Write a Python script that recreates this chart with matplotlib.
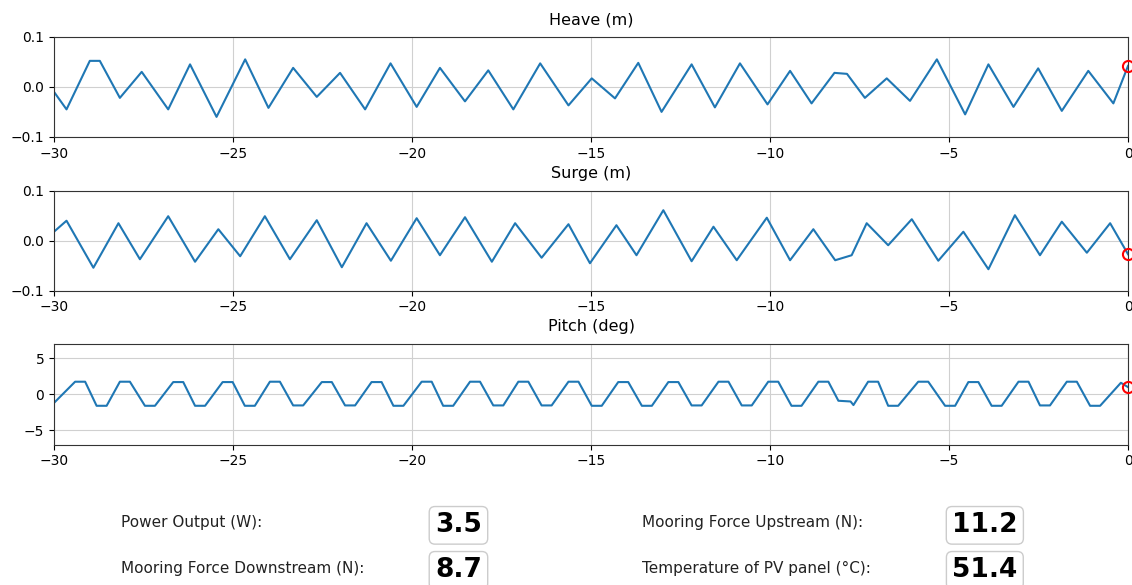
import matplotlib
matplotlib.use("Agg")
import matplotlib.pyplot as plt

# valores (picos y valles de cada serie)
heave_t = [-30.0, -29.65, -29.0, -28.72, -28.16, -27.55, -26.81, -26.2, -25.46, -24.66,
           -24.01, -23.32, -22.66, -22.01, -21.31, -20.6, -19.87, -19.22, -18.52, -17.87,
           -17.17, -16.42, -15.63, -14.98, -14.33, -13.68, -13.03, -12.19, -11.54, -10.84,
           -10.07, -9.44, -8.84, -8.2, -7.85, -7.35, -6.74, -6.09, -5.34, -4.55,
           -3.9, -3.2, -2.51, -1.85, -1.11, -0.41, 0.0]
heave_v = [-0.01, -0.045, 0.052, 0.052, -0.022, 0.03, -0.045, 0.045, -0.06, 0.055,
           -0.042, 0.038, -0.02, 0.028, -0.045, 0.047, -0.04, 0.038, -0.029, 0.033,
           -0.045, 0.047, -0.037, 0.017, -0.023, 0.048, -0.05, 0.045, -0.041, 0.047,
           -0.035, 0.032, -0.033, 0.028, 0.026, -0.022, 0.017, -0.028, 0.055, -0.055,
           0.045, -0.04, 0.037, -0.048, 0.032, -0.033, 0.042]

surge_t = [-30.0, -29.65, -28.9, -28.2, -27.6, -26.81, -26.06, -25.41, -24.8, -24.11,
           -23.41, -22.66, -21.96, -21.27, -20.59, -19.87, -19.22, -18.52, -17.77, -17.12,
           -16.38, -15.63, -15.03, -14.29, -13.73, -12.98, -12.19, -11.58, -10.93, -10.09,
           -9.44, -8.79, -8.18, -7.72, -7.3, -6.7, -6.04, -5.3, -4.6, -3.9,
           -3.16, -2.46, -1.85, -1.15, -0.5, 0.0]
surge_v = [0.018, 0.04, -0.054, 0.035, -0.037, 0.049, -0.042, 0.023, -0.031, 0.049,
           -0.037, 0.041, -0.053, 0.035, -0.04, 0.045, -0.029, 0.047, -0.042, 0.035,
           -0.034, 0.033, -0.045, 0.031, -0.029, 0.061, -0.041, 0.028, -0.039, 0.046,
           -0.039, 0.023, -0.039, -0.029, 0.035, -0.009, 0.043, -0.04, 0.018, -0.057,
           0.051, -0.029, 0.038, -0.024, 0.035, -0.027]

# pitch: bordes de las mesetas superior e inferior
pitch_t = [-30.0,
           -29.41, -29.13, -28.81, -28.53, -28.16, -27.88, -27.46, -27.18,
           -26.67, -26.39, -26.06, -25.78, -25.29, -25.01, -24.67, -24.39,
           -23.97, -23.69, -23.32, -23.04, -22.52, -22.24, -21.87, -21.59,
           -21.13, -20.85, -20.52, -20.24, -19.73, -19.45, -19.13, -18.85,
           -18.38, -18.10, -17.73, -17.45, -17.03, -16.75, -16.38, -16.10,
           -15.63, -15.35, -14.98, -14.70, -14.24, -13.96, -13.58, -13.30,
           -12.84, -12.56, -12.19, -11.91, -11.44, -11.16, -10.79, -10.51,
           -10.05, -9.77, -9.40, -9.12, -8.65, -8.37, -8.09, -7.75, -7.67,
           -7.26, -6.98, -6.70, -6.42, -5.86, -5.58, -5.11, -4.83,
           -4.46, -4.18, -3.81, -3.53, -3.06, -2.78, -2.46, -2.18,
           -1.71, -1.43, -1.06, -0.78, -0.2, 0.0]
pitch_v = [-1.2,
           1.75, 1.75, -1.6, -1.6, 1.75, 1.75, -1.6, -1.6,
           1.7, 1.7, -1.6, -1.6, 1.7, 1.7, -1.6, -1.6,
           1.75, 1.75, -1.55, -1.55, 1.7, 1.7, -1.55, -1.55,
           1.7, 1.7, -1.6, -1.6, 1.75, 1.75, -1.6, -1.6,
           1.75, 1.75, -1.55, -1.55, 1.75, 1.75, -1.55, -1.55,
           1.75, 1.75, -1.6, -1.6, 1.7, 1.7, -1.6, -1.6,
           1.7, 1.7, -1.55, -1.55, 1.75, 1.75, -1.55, -1.55,
           1.75, 1.75, -1.6, -1.6, 1.75, 1.75, -0.9, -1.0, -1.5,
           1.75, 1.75, -1.6, -1.6, 1.75, 1.75, -1.6, -1.6,
           1.7, 1.7, -1.6, -1.6, 1.75, 1.75, -1.55, -1.55,
           1.75, 1.75, -1.6, -1.6, 1.6, 1.0]

titulos = ["Heave (m)", "Surge (m)", "Pitch (deg)"]
limites_y = [(-0.1, 0.1), (-0.1, 0.1), (-7, 7)]
ticks_y = [[-0.1, 0.0, 0.1], [-0.1, 0.0, 0.1], [-5, 0, 5]]
ticks_x = [-30, -25, -20, -15, -10, -5, 0]

etiquetas = ["Power Output (W):", "Mooring Force Downstream (N):",
             "Mooring Force Upstream (N):", "Temperature of PV panel (°C):"]
valores = ["3.5", "8.7", "11.2", "51.4"]

fig = plt.figure(figsize=(11.32, 5.85), dpi=100)

posiciones = [[0.0477, 0.766, 0.9488, 0.171],
              [0.0477, 0.503, 0.9488, 0.171],
              [0.0477, 0.240, 0.9488, 0.172]]
series = [(heave_t, heave_v), (surge_t, surge_v), (pitch_t, pitch_v)]

for pos, (t, v), titulo, lim, yt in zip(posiciones, series, titulos, limites_y, ticks_y):
    ax = fig.add_axes(pos)
    ax.plot(t, v, color="#1f77b4", linewidth=1.5)
    ax.plot([t[-1]], [v[-1]], "o", markerfacecolor="none", markeredgecolor="red",
            markersize=8, markeredgewidth=1.5, clip_on=False, zorder=5)
    ax.set_xlim(-30, 0)
    ax.set_ylim(*lim)
    ax.set_xticks(ticks_x)
    ax.set_yticks(yt)
    ax.grid(True, color="#d0d0d0", linewidth=0.8)
    ax.set_title(titulo, fontsize=11.5, pad=9)
    for s in ax.spines.values():
        s.set_color("#333333")

# panel de valores
col_x = [0.107, 0.567]
val_x = [0.405, 0.870]
fila_y = [1 - 523 / 585, 1 - 568 / 585]
for i, (et, val) in enumerate(zip(etiquetas, valores)):
    c, f = divmod(i, 2)
    fig.text(col_x[c], fila_y[f], et, fontsize=11, va="center", ha="left", color="#222222")
    fig.text(val_x[c], fila_y[f] - 0.004, val, fontsize=19, fontweight="bold", va="center",
             ha="center",
             bbox=dict(boxstyle="round,pad=0.22", facecolor="white", edgecolor="#cccccc",
                       linewidth=1.0))

fig.savefig("out.png", dpi=100)
